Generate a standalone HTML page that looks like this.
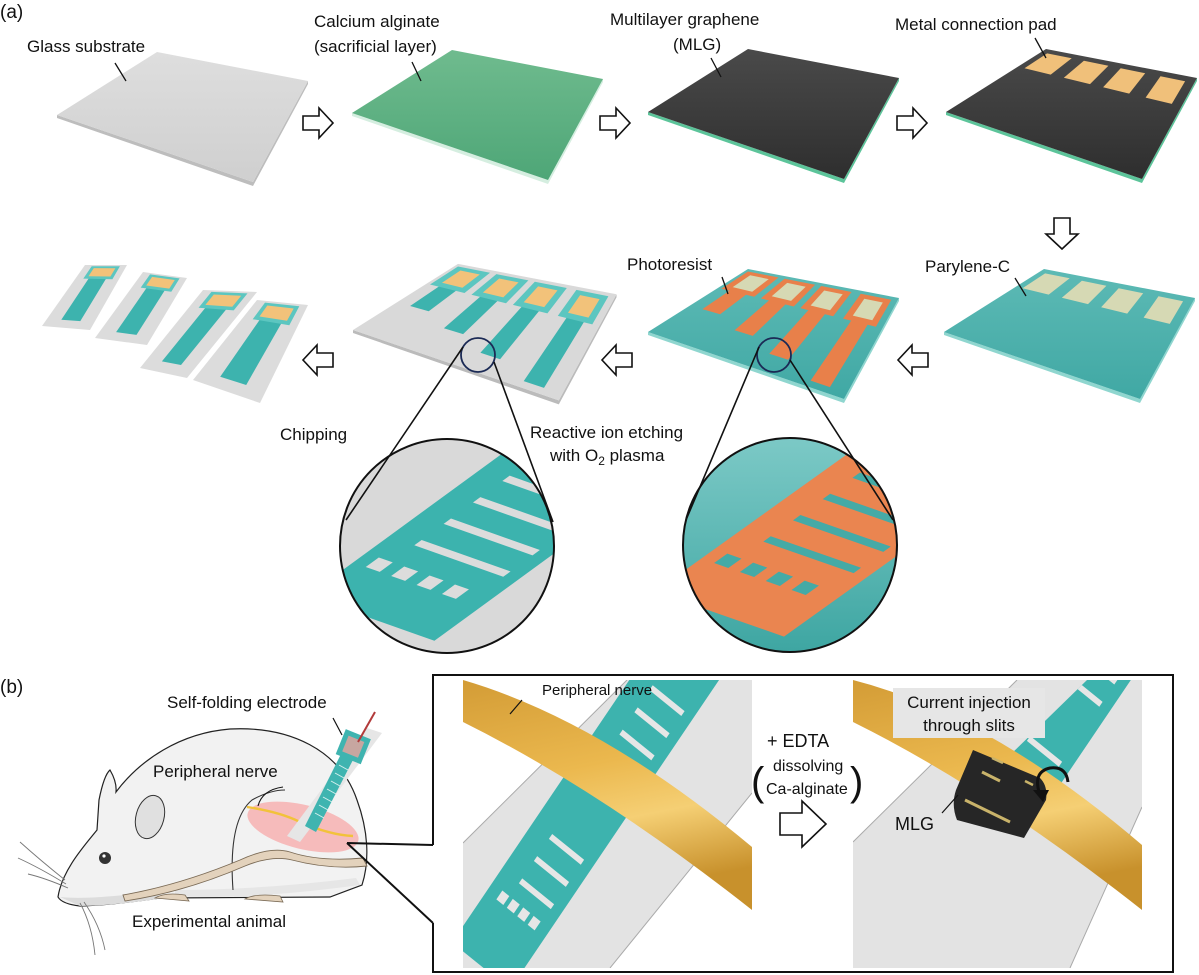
<!DOCTYPE html>
<html><head><meta charset="utf-8"><style>
html,body{margin:0;padding:0;background:#fff;}
svg{display:block;font-family:"Liberation Sans",Arial,sans-serif;}
text{fill:#111;}
</style></head><body>
<svg id="fig" width="1199" height="975" viewBox="0 0 1199 975" xmlns="http://www.w3.org/2000/svg">
<defs>
<linearGradient id="gGlass" x1="0" y1="0" x2="0" y2="1"><stop offset="0" stop-color="#dedede"/><stop offset="1" stop-color="#cfcfcf"/></linearGradient>
<linearGradient id="gCa" x1="0" y1="0" x2="0" y2="1"><stop offset="0" stop-color="#6fbb8e"/><stop offset="1" stop-color="#4ea677"/></linearGradient>
<linearGradient id="gMLG" x1="0" y1="0" x2="0" y2="1"><stop offset="0" stop-color="#4a4a4a"/><stop offset="1" stop-color="#2e2e2e"/></linearGradient>
<linearGradient id="gPar" x1="0" y1="0" x2="0" y2="1"><stop offset="0" stop-color="#5dbab5"/><stop offset="1" stop-color="#40a8a4"/></linearGradient>
<linearGradient id="gCircT" x1="0" y1="0" x2="0" y2="1"><stop offset="0" stop-color="#7cc9c6"/><stop offset="1" stop-color="#3ea6a2"/></linearGradient>
<linearGradient id="gTube" x1="0" y1="0" x2="0.25" y2="1"><stop offset="0" stop-color="#d39c36"/><stop offset="0.45" stop-color="#ebb84e"/><stop offset="0.7" stop-color="#f5cf74"/><stop offset="1" stop-color="#c8912c"/></linearGradient>
<clipPath id="cL"><circle cx="447" cy="546" r="107"/></clipPath>
<clipPath id="cR"><circle cx="790" cy="545" r="107"/></clipPath>
<clipPath id="pL"><rect x="463" y="680" width="289" height="288"/></clipPath>
<clipPath id="pR"><rect x="853" y="680" width="289" height="288"/></clipPath>
<clipPath id="tealR"><polygon points="1008,757 1060,800 1142,700 1142,680 1087,680"/></clipPath>
</defs>

<text x="0" y="18" font-size="19">(a)</text>
<text x="0" y="693" font-size="19">(b)</text>

<g id="plates"></g>

<g fill="#fff" stroke="#111" stroke-width="1.6">
<path d="M303,116 h16 v-8 l14,15 l-14,15 v-8 h-16 z"/>
<path d="M600,116 h16 v-8 l14,15 l-14,15 v-8 h-16 z"/>
<path d="M897,116 h16 v-8 l14,15 l-14,15 v-8 h-16 z"/>
<path d="M1054,218 h16 v16 h8 l-16,15 l-16,-15 h8 z"/>
<path d="M928,353 h-16 v-8 l-14,15 l14,15 v-8 h16 z"/>
<path d="M632,353 h-16 v-8 l-14,15 l14,15 v-8 h16 z"/>
<path d="M333,353 h-16 v-8 l-14,15 l14,15 v-8 h16 z"/>
<path d="M780,813 h22 v-12 l24,23 l-24,23 v-12 h-22 z"/>
</g>

<g font-size="17">
<text x="27" y="52">Glass substrate</text>
<text x="314" y="27">Calcium alginate</text>
<text x="314" y="52">(sacrificial layer)</text>
<text x="610" y="25">Multilayer graphene</text>
<text x="673" y="50">(MLG)</text>
<text x="895" y="30">Metal connection pad</text>
<text x="627" y="270">Photoresist</text>
<text x="925" y="272">Parylene-C</text>
<text x="280" y="440">Chipping</text>
<text x="530" y="438">Reactive ion etching</text>
<text x="550" y="461">with O<tspan font-size="12" dy="4">2</tspan><tspan dy="-4"> plasma</tspan></text>
</g>
<g stroke="#111" stroke-width="1.3">
<line x1="115" y1="63" x2="126" y2="81"/>
<line x1="412" y1="62" x2="421" y2="81"/>
<line x1="711" y1="58" x2="721" y2="77"/>
<line x1="1035" y1="38" x2="1046" y2="58"/>
<line x1="722" y1="277" x2="728" y2="294"/>
<line x1="1015" y1="278" x2="1026" y2="296"/>
</g>

<g>
<circle cx="447" cy="546" r="107" fill="#d9d9d9"/>
<g clip-path="url(#cL)">
<g transform="matrix(127,45,163,-119,340,572)" id="stripL"></g>
</g>
<circle cx="447" cy="546" r="107" fill="none" stroke="#111" stroke-width="2"/>
</g>
<g>
<circle cx="790" cy="545" r="107" fill="url(#gCircT)"/>
<g clip-path="url(#cR)">
<g transform="matrix(129,45,165,-118,688,568)" id="stripR"></g>
</g>
<circle cx="790" cy="545" r="107" fill="none" stroke="#111" stroke-width="2"/>
</g>
<g fill="none" stroke="#1b2a55" stroke-width="1.8">
<circle cx="478" cy="355" r="17"/>
<circle cx="774" cy="355" r="17"/>
</g>
<g stroke="#111" stroke-width="1.6">
<line x1="463" y1="347" x2="346" y2="520"/>
<line x1="494" y1="362" x2="553" y2="522"/>
<line x1="759" y1="347" x2="686" y2="520"/>
<line x1="790" y1="360" x2="893" y2="520"/>
</g>

<g>
<path d="M433,845 V675 H1173 V972 H433 V923" fill="none" stroke="#111" stroke-width="2"/>
</g>

<g clip-path="url(#pL)">
<rect x="463" y="680" width="289" height="288" fill="#fff"/>
<polygon points="463,843 627,680 752,680 752,793 610,968 463,968" fill="#e3e3e3"/>
<line x1="463" y1="843" x2="627" y2="680" stroke="#aaa" stroke-width="1"/>
<line x1="610" y1="968" x2="752" y2="793" stroke="#aaa" stroke-width="1"/>
<g transform="matrix(58,47,150,-222,482,898)" id="stripB1"></g>
<path d="M463,680 Q600,720 752,847 L752,910 Q600,790 463,722 Z" fill="url(#gTube)"/>
</g>
<text x="542" y="695" font-size="15">Peripheral nerve</text>
<line x1="522" y1="700" x2="510" y2="714" stroke="#111" stroke-width="1.2"/>

<g clip-path="url(#pR)">
<rect x="853" y="680" width="289" height="288" fill="#fff"/>
<polygon points="853,842 1017,680 1142,680 1142,807 1070,968 853,968" fill="#e3e3e3"/>
<line x1="853" y1="842" x2="1017" y2="680" stroke="#aaa" stroke-width="1"/>
<line x1="1070" y1="968" x2="1142" y2="807" stroke="#aaa" stroke-width="1"/>
<g clip-path="url(#tealR)"><g transform="matrix(58,47,150,-222,960,800)" id="stripB2"></g></g>
<path d="M853,680 Q990,715 1142,845 L1142,910 Q990,790 853,722 Z" fill="url(#gTube)"/>
<g>
<path d="M973,750 L1040,778 Q1048,786 1046,800 L1024,838 L957,820 Q951,805 956,790 Z" fill="#262626"/>
<line x1="965" y1="800" x2="1010" y2="822" stroke="#c9b36a" stroke-width="3"/>
<line x1="982" y1="772" x2="1000" y2="781" stroke="#c9b36a" stroke-width="3"/>
<line x1="992" y1="758" x2="1003" y2="763" stroke="#c9b36a" stroke-width="2.5"/>
<line x1="1025" y1="781" x2="1033" y2="785" stroke="#c9b36a" stroke-width="2.5"/>
</g>
<path d="M1040,795 Q1032,772 1050,768 Q1066,766 1068,782" fill="none" stroke="#111" stroke-width="3"/>
<path d="M1033,790 l10,12 l6,-12 z" fill="#111"/>
</g>
<g>
<rect x="893" y="688" width="152" height="50" fill="#e6e6e6"/>
<text x="969" y="708" font-size="17" text-anchor="middle">Current injection</text>
<text x="969" y="731" font-size="17" text-anchor="middle">through slits</text>
</g>
<text x="895" y="830" font-size="18">MLG</text>
<line x1="942" y1="813" x2="958" y2="795" stroke="#111" stroke-width="1.2"/>

<g font-size="18">
<text x="767" y="747">+ EDTA</text>
<text x="773" y="771" font-size="16">dissolving</text>
<text x="766" y="794" font-size="16">Ca-alginate</text>
<text x="751" y="795" font-size="40">(</text>
<text x="850" y="795" font-size="40">)</text>
</g>

<g>
<path d="M58,897 C62,870 85,845 97,830 L99,800 Q104,775 110,770 Q117,782 116,792 C140,760 180,733 230,729 C290,726 340,750 357,800 C368,830 370,860 362,885 L330,897 L160,898 Q110,905 80,906 Q62,904 58,897 Z" fill="#f2f2f2" stroke="#222" stroke-width="1.2"/>
<path d="M60,897 Q90,900 150,892 L165,898 Q110,906 80,906 Z" fill="#dcdcdc"/>
<path d="M175,896 Q250,900 360,885 L356,878 Q260,890 175,890 Z" fill="#e6e6e6"/>
<ellipse cx="150" cy="817" rx="14" ry="22" fill="#e0e0e0" stroke="#333" stroke-width="1" transform="rotate(15 150 817)"/>
<circle cx="105" cy="858" r="6" fill="#333"/>
<circle cx="104" cy="856" r="1.6" fill="#fff"/>
<path d="M233,890 Q228,820 252,800 Q270,790 285,790" fill="none" stroke="#333" stroke-width="1.1"/>
<ellipse cx="303" cy="827" rx="57" ry="22" fill="#f7b2b2" opacity="0.85" transform="rotate(14 303 827)"/>
<path d="M247,807 Q280,812 300,822 Q330,835 353,836" fill="none" stroke="#f2c23a" stroke-width="2.4"/>
<path d="M283,787 Q262,790 258,806" fill="none" stroke="#111" stroke-width="1.1"/>
<path d="M363,858 Q320,862 290,852 Q270,846 240,860 Q180,885 123,895 L125,901 Q185,892 245,866 Q272,855 292,860 Q330,870 367,866 Z" fill="#e3d2bc" stroke="#7a6a55" stroke-width="0.9"/>
<path d="M155,898 q10,-6 30,-3 l4,6 z M245,899 q10,-6 35,-3 l3,6 z" fill="#e3d2bc" stroke="#7a6a55" stroke-width="0.8"/>
<polygon points="367,728 382,733 300,842 287,836" fill="#e6e6e6"/>
<polygon points="343,750 355,756 316,832 305,826" fill="#3fb4b0"/>
<g stroke="#d6f0ee" stroke-width="1"><line x1="339" y1="765" x2="348" y2="770"/><line x1="335" y1="773" x2="344" y2="778"/><line x1="331" y1="781" x2="340" y2="786"/><line x1="327" y1="789" x2="336" y2="794"/><line x1="323" y1="797" x2="332" y2="802"/><line x1="319" y1="805" x2="328" y2="810"/><line x1="315" y1="813" x2="324" y2="818"/></g>
<rect x="340" y="733" width="27" height="27" fill="#3fb4b0" transform="rotate(22 353 746)"/>
<rect x="345" y="738" width="17" height="17" fill="#c7a6a0" transform="rotate(22 353 746)"/>
<line x1="375" y1="712" x2="358" y2="742" stroke="#b23a3a" stroke-width="2"/>
<line x1="333" y1="718" x2="342" y2="735" stroke="#111" stroke-width="1.2"/>
<g stroke="#777" stroke-width="0.9" fill="none">
<path d="M65,880 Q40,860 20,842"/><path d="M66,884 Q40,868 18,858"/><path d="M68,888 Q45,878 28,874"/>
<path d="M80,903 Q92,925 95,955"/><path d="M84,902 Q100,925 105,950"/>
</g>
<line x1="347" y1="843" x2="433" y2="845" stroke="#111" stroke-width="2"/>
<line x1="347" y1="843" x2="433" y2="923" stroke="#111" stroke-width="2"/>
</g>
<g font-size="17">
<text x="167" y="708">Self-folding electrode</text>
<text x="153" y="777">Peripheral nerve</text>
<text x="132" y="927">Experimental animal</text>
</g>

<script>
var NS='http://www.w3.org/2000/svg';
function mk(tag,attrs,parent){var e=document.createElementNS(NS,tag);for(var k in attrs)e.setAttribute(k,attrs[k]);parent.appendChild(e);return e;}
function P(q,u,v){var a=q[0],b=q[1],c=q[2],d=q[3];
 var fx=a[0]+(b[0]-a[0])*u, fy=a[1]+(b[1]-a[1])*u, bx=c[0]+(d[0]-c[0])*u, by=c[1]+(d[1]-c[1])*u;
 return [fx+(bx-fx)*v, fy+(by-fy)*v];}
function quad(q,u0,u1,v0,v1,fill,parent,name){
 var pts=[P(q,u0,v0),P(q,u1,v0),P(q,u1,v1),P(q,u0,v1)].map(function(p){return p[0].toFixed(1)+','+p[1].toFixed(1);}).join(' ');
 var e=mk('polygon',{points:pts,fill:fill},parent);
 
 
 return e;}
var g=document.getElementById('plates');
function plate(dx,dy,s,fill,edge,name){
 var L=[57,115],B=[253,182],T=[157,52],R=[308,81];
 var f=function(p){return [dx+(p[0]-57)*s+57, dy+(p[1]-115)*s+115];};
 var q=[f(L),f(B),f(T),f(R)];
 var ed=mk('polygon',{points:[q[0],q[1],q[3],[q[3][0],q[3][1]+3],[q[1][0],q[1][1]+4],[q[0][0],q[0][1]+3]].map(function(p){return p.join(',');}).join(' '),fill:edge},g);
 
 
 quad(q,0,1,0,1,fill,g,name);
 return q;}
var padU=[[0.04,0.2],[0.28,0.44],[0.52,0.68],[0.78,0.94]];
var stripEnd=[0.42,0.3,0.18,0.06];
plate(0,0,1,'url(#gGlass)','#bdbdbd','glass-plate');
plate(295,-2,1,'url(#gCa)','#d5eee0','alginate-plate');
plate(591,-3,1,'url(#gMLG)','#5cc49a','mlg-plate');
var q4=plate(889,-3,1,'url(#gMLG)','#5cc49a','pad-plate');
padU.forEach(function(p){quad(q4,p[0],p[1],0.72,0.95,'#f0c07a',g,'metal-pad');});
var q5=plate(887,217,1,'url(#gPar)','#8fd6cf','parylene-plate');
padU.forEach(function(p){quad(q5,p[0],p[1],0.72,0.95,'#d6d9b4',g,'covered-pad');});
var q6=plate(591,217,1,'url(#gPar)','#8fd6cf','photoresist-plate');
padU.forEach(function(p,i){var c=(p[0]+p[1])/2;
 quad(q6,c-0.05,c+0.05,stripEnd[i],0.75,'#e8804a',g,'photoresist-strip');
 quad(q6,p[0]-0.02,p[1]+0.02,0.7,0.97,'#e8804a',g,'photoresist-pad');
 quad(q6,p[0]+0.02,p[1]-0.02,0.75,0.93,'#d6d9b4',g,'photoresist-window');});
var q7=plate(296,215,1.05,'#d9d9d9','#bbbbbb','etched-plate');
padU.forEach(function(p,i){var c=(p[0]+p[1])/2;
 quad(q7,c-0.05,c+0.05,stripEnd[i],0.75,'#3db3ae',g,'electrode-strip');
 quad(q7,p[0]-0.02,p[1]+0.02,0.7,0.97,'#5cc6c0',g,'electrode-pad-frame');
 quad(q7,p[0]+0.02,p[1]-0.02,0.75,0.93,'#f2c27a',g,'electrode-pad');});
var pieces=[[[42,326],[90,330],[85,265],[127,265]],[[95,338],[147,345],[143,272],[187,278]],[[140,368],[187,378],[203,290],[257,292]],[[193,380],[260,403],[257,300],[308,305]]];
pieces.forEach(function(q){
 quad(q,0,1,0,1,'#dcdcdc',g,'chipped-substrate');
 quad(q,0.3,0.7,0.12,0.8,'#3db3ae',g,'chipped-strip');
 quad(q,0.18,0.85,0.78,0.98,'#5cc6c0',g,'chipped-pad-frame');
 quad(q,0.26,0.77,0.82,0.95,'#f2c27a',g,'chipped-pad');});
var barPos=[0.3,0.48,0.66,0.84,1.02,1.2];
var sqPos=[0.1,0.3,0.5,0.7];
function zoomStrip(id,fill,hole,name){
 var s=document.getElementById(id);
 var r=mk('rect',{x:0,y:-0.2,width:1,height:2.2,fill:fill},s);
 
 
 barPos.forEach(function(b){var e=mk('rect',{x:0.2,y:b,width:0.7,height:0.045,fill:hole},s);
  
  });
 sqPos.forEach(function(x){var e=mk('rect',{x:x,y:0.08,width:0.11,height:0.08,fill:hole},s);
  
  });}
zoomStrip('stripL','#3cb3ae','#dcdcdc','zoom-electrode');
zoomStrip('stripR','#ea8550','#45aaa6','zoom-photoresist');
var boxBars=[0.13,0.23,0.33,0.6,0.7,0.8,0.9,1.0];
function boxStrip(id){
 var s=document.getElementById(id);
 var r=mk('rect',{x:0,y:-0.2,width:1,height:1.6,fill:'#3db3ae'},s);
 
 
 boxBars.forEach(function(b){var e=mk('rect',{x:0.3,y:b,width:0.55,height:0.022,fill:'#e6e6e6'},s);
  
  });
 sqPos.forEach(function(x){var e=mk('rect',{x:x*0.9+0.08,y:0.03,width:0.12,height:0.04,fill:'#e6e6e6'},s);
  
  });}
boxStrip('stripB1');
boxStrip('stripB2');
</script>
</svg>
</body></html>
